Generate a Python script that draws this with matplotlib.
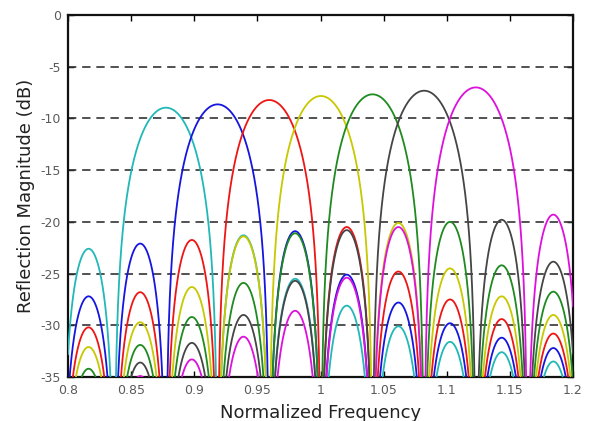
import numpy as np
import matplotlib
matplotlib.use("Agg")
import matplotlib.pyplot as plt

plt.rcParams['font.family'] = ['DejaVu Sans']

# ---- data ----
x_ticks = [0.8, 0.85, 0.9, 0.95, 1.0, 1.05, 1.1, 1.15, 1.2]
x_tick_labels = ['0.8', '0.85', '0.9', '0.95', '1', '1.05', '1.1', '1.15', '1.2']
y_ticks = [0, -5, -10, -15, -20, -25, -30, -35]
y_tick_labels = ['0', '-5', '-10', '-15', '-20', '-25', '-30', '-35']
grid_levels = [-5, -10, -15, -20, -25, -30]

series_names = ['cyan', 'blue', 'red', 'yellow', 'green', 'gray', 'magenta']
series_colors = ['#22b8b8', '#1515e0', '#ee1515', '#c8c800', '#1f8a1f', '#454545', '#dd10dd']

# main-lobe centre (normalized frequency) and peak (dB) of each grating
main_centre = [0.8776, 0.9185, 0.9594, 1.0003, 1.0412, 1.0821, 1.1230]
main_peak = [-8.96, -8.64, -8.22, -7.83, -7.67, -7.32, -7.00]

# common side-lobe positions and side-lobe peaks (dB) of each grating
side_centre = [0.8163, 0.8572, 0.8981, 0.9390, 0.9799, 1.0208, 1.0617, 1.1026, 1.1435, 1.1844]
nan = np.nan
cyan_side = [-22.6, nan, nan, -21.3, -25.5, -28.1, -30.1, -31.6, -32.6, -33.5]
blue_side = [-27.2, -22.1, nan, nan, -20.9, -25.1, -27.8, -29.8, -31.2, -32.2]
red_side = [-30.2, -26.8, -21.75, nan, nan, -20.5, -24.8, -27.5, -29.4, -30.8]
yellow_side = [-32.1, -29.7, -26.3, -21.4, nan, nan, -20.1, -24.5, -27.2, -29.0]
green_side = [-34.2, -31.9, -29.2, -25.9, -21.1, nan, nan, -20.0, -24.2, -26.75]
gray_side = [-35.5, -33.6, -31.7, -29.0, -25.7, -20.8, nan, nan, -19.8, -23.85]
magenta_side = [-36.5, -34.9, -33.3, -31.1, -28.6, -25.4, -20.5, nan, nan, -19.3]
side_peaks = [cyan_side, blue_side, red_side, yellow_side, green_side, gray_side, magenta_side]

# ---- drawing ----
fig = plt.figure(figsize=(5.89, 4.21), dpi=100)
ax = fig.add_axes([68 / 589, 1 - 377 / 421, (573 - 68) / 589, (377 - 15) / 421])

spacing = float(np.mean(np.diff(side_centre)))
xs = np.linspace(0.78, 1.22, 6001)


def lobe(x, centre, peak, half):
    u = (x - centre) / half
    out = np.full_like(x, -200.0)
    m = np.abs(u) < 1
    out[m] = peak + 20 * np.log10(np.maximum(np.cos(np.pi / 2 * u[m]), 1e-10))
    return out


for k in range(len(series_names)):
    y = lobe(xs, main_centre[k], main_peak[k], spacing)
    for s, p in zip(side_centre, side_peaks[k]):
        if not np.isnan(p):
            y = np.maximum(y, lobe(xs, s, p, spacing / 2))
    y = np.maximum(y, -80)
    ax.plot(xs, y, color=series_colors[k], lw=1.3, zorder=3)

for g in grid_levels:
    ax.axhline(g, color='#333333', lw=1.2, ls=(0, (5, 3.5)), zorder=2)

ax.set_xlim(0.8, 1.2)
ax.set_ylim(-35, 0)
ax.set_xticks(x_ticks)
ax.set_xticklabels(x_tick_labels)
ax.set_yticks(y_ticks)
ax.set_yticklabels(y_tick_labels)
ax.tick_params(direction='in', length=4, width=1, top=True, right=True,
               labelsize=9, labelcolor='#5a5a5a', pad=5)
for sp in ax.spines.values():
    sp.set_linewidth(1.6)
    sp.set_color('#111111')

ax.set_xlabel('Normalized Frequency', fontsize=13, color='#222222', labelpad=5)
ax.set_ylabel('Reflection Magnitude (dB)', fontsize=13, color='#222222', labelpad=4)

fig.savefig('out.png', dpi=100, facecolor='white')
